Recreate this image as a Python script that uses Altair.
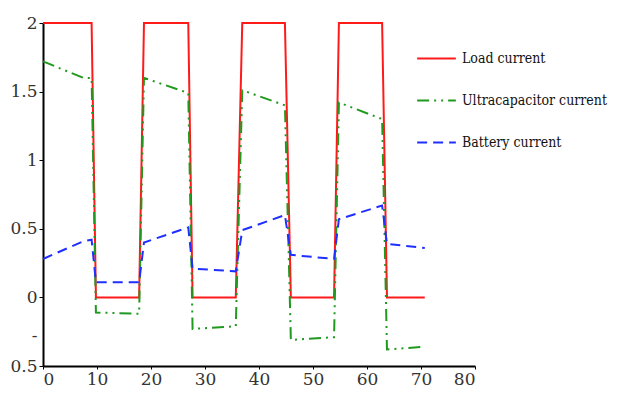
import altair as alt
import pandas as pd

# shared time breakpoints (s)
time = [0, 7.5, 9, 9.8, 17.8, 18.7, 26.9, 27.7, 35.7, 36.9, 44.8, 45.9, 53.9, 54.8, 62.8, 63.7, 70.7]
load_current = [2, 2, 2, 0, 0, 2, 2, 0, 0, 2, 2, 0, 0, 2, 2, 0, 0]
ultra_current = [1.72, 1.60, 1.60, -0.11, -0.12, 1.60, 1.49, -0.23, -0.21, 1.51, 1.40,
                 -0.31, -0.29, 1.42, 1.30, -0.38, -0.36]
battery_current = [0.28, 0.41, 0.42, 0.11, 0.11, 0.40, 0.51, 0.21, 0.19, 0.49, 0.60,
                   0.31, 0.28, 0.57, 0.67, 0.39, 0.36]

series_names = ["Load current", "Ultracapacitor current", "Battery current"]
series_colors = ["#ff1a1a", "#1f9a1f", "#1f2fff"]
series_dash = [[1, 0], [12, 5, 2, 5, 2, 5], [10, 6]]

x_ticks = [0, 10, 20, 30, 40, 50, 60, 70, 80]
y_ticks = [-0.5, 0, 0.5, 1, 1.5, 2]

rows = []
for name, vals in zip(series_names, [load_current, ultra_current, battery_current]):
    for i, (t, v) in enumerate(zip(time, vals)):
        rows.append({"t": t, "value": v, "series": name, "idx": i})
df = pd.DataFrame(rows)

axis_font = "DejaVu Serif"
legend_font = "DejaVu Serif Condensed"

chart = alt.Chart(df).mark_line(strokeWidth=2).encode(
    x=alt.X("t:Q", scale=alt.Scale(domain=[0, 80], nice=False),
            axis=alt.Axis(values=x_ticks, title=None, grid=False, format="d",
                          labelFont=axis_font, labelFontSize=17, labelColor="#333",
                          labelPadding=2, tickSize=3, domainWidth=2,
                          domainColor="black", tickColor="black")),
    y=alt.Y("value:Q", scale=alt.Scale(domain=[-0.5, 2], nice=False, zero=False),
            axis=alt.Axis(values=y_ticks, title=None, grid=False,
                          labelExpr="datum.value == -0.5 ? ['-\u00a0\u00a0\u00a0', '0.5'] : format(datum.value, '~g')",
                          labelOffset={"condition": {"test": "datum.value == -0.5", "value": -31}, "value": 0},
                          labelLineHeight=31,
                          labelFont=axis_font, labelFontSize=17, labelColor="#333",
                          labelPadding=2, tickSize=4, domainWidth=2,
                          domainColor="black", tickColor="black")),
    color=alt.Color("series:N", scale=alt.Scale(domain=series_names, range=series_colors),
                    legend=alt.Legend(title=None)),
    strokeDash=alt.StrokeDash("series:N", scale=alt.Scale(domain=series_names, range=series_dash),
                              legend=alt.Legend(title=None)),
    order=alt.Order("idx:Q"),
).properties(
    width=432, height=343,
    autosize=alt.AutoSizeParams(type="none"),
    padding={"left": 35, "top": 15, "right": 137, "bottom": 25},
).configure_view(stroke=None).configure_legend(
    orient="none", legendX=373, legendY=15,
    symbolType="stroke", symbolSize=1500, symbolStrokeWidth=2,
    labelFont=legend_font, labelFontSize=14, labelColor="#111", labelOffset=5,
    rowPadding=14, labelLimit=300,
)

chart.save("out.html", embed_options={"renderer": "svg", "actions": False})
